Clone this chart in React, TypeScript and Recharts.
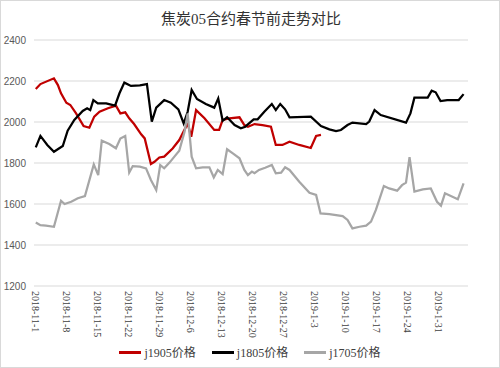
import { LineChart, Line, XAxis, YAxis, CartesianGrid, Legend } from "recharts";

// day offset from 2018-11-1, price
const tickDates = [
  "2018-11-1", "2018-11-8", "2018-11-15", "2018-11-22", "2018-11-29",
  "2018-12-6", "2018-12-13", "2018-12-20", "2018-12-27", "2019-1-3",
  "2019-1-10", "2019-1-17", "2019-1-24", "2019-1-31",
];
const tickDays = tickDates.map((_, i) => i * 7);
const priceTicks = [1200, 1400, 1600, 1800, 2000, 2200, 2400];

const j1905: [number, number][] = [
  [0, 2161], [1.05, 2185], [4.1, 2213], [5, 2180], [5.7, 2140], [6.9, 2094],
  [7.8, 2083], [9.1, 2042], [10.8, 1980], [12.1, 1972], [13.2, 2026], [14.4, 2050],
  [16.3, 2067], [18.1, 2080], [19.1, 2042], [20.2, 2047], [21.1, 2018], [22.2, 1990],
  [23.8, 1940], [24.6, 1920], [26, 1795], [26.8, 1806], [27.9, 1827], [29, 1831],
  [30.9, 1871], [32.4, 1912], [34.3, 1993], [35.1, 1928], [36.2, 2058], [38.1, 2018],
  [40.3, 1961], [41.4, 1961], [42.2, 2010], [43.7, 2018], [46, 2023], [47.1, 1985],
  [47.9, 1977], [49.4, 1990], [51.2, 1985], [53.1, 1977], [54.2, 1888], [55.7, 1888],
  [57.3, 1904], [59.5, 1888], [62.1, 1873], [63.3, 1932], [64.4, 1937],
];

const j1805: [number, number][] = [
  [0, 1876], [1.05, 1932], [2.6, 1888], [4.1, 1855], [6.1, 1883], [7.2, 1958],
  [8.7, 2010], [10.6, 2054], [11.6, 2067], [12.3, 2058], [13, 2107], [14, 2091],
  [15.9, 2091], [17.9, 2080], [18.9, 2140], [20, 2192], [21.5, 2176], [23.5, 2179],
  [25.1, 2185], [26.2, 2002], [27.2, 2070], [29, 2107], [30.5, 2094], [32.2, 2062],
  [33.4, 1993], [34.3, 2050], [35.2, 2156], [36.4, 2112], [38.4, 2088], [40.3, 2070],
  [41.2, 2115], [42.2, 2006], [43.2, 2023], [44.9, 1985], [46.3, 1969], [47.3, 1977],
  [49.2, 2013], [50.1, 2013], [51.6, 2050], [53.3, 2088], [54.2, 2058], [55.2, 2088],
  [56.3, 2062], [57.3, 2023], [62.1, 2026], [64.4, 1980], [66.3, 1964], [67.8, 1956],
  [68.9, 1961], [70.4, 1985], [71.5, 1997], [74.6, 1990], [75.3, 2002], [76.5, 2058],
  [77.9, 2034], [83.6, 1997], [84.6, 2042], [85.5, 2119], [88.5, 2119], [89.4, 2153],
  [90.3, 2145], [91.4, 2102], [92.9, 2107], [95.5, 2107], [96.6, 2136],
];

const j1705: [number, number][] = [
  [0, 1510], [1.05, 1497], [2.3, 1494], [4.1, 1489], [5.7, 1616], [6.5, 1600],
  [8, 1611], [9.5, 1628], [11.1, 1639], [13.1, 1793], [14.1, 1741], [14.9, 1909],
  [16.6, 1893], [18.1, 1872], [19.1, 1919], [20.2, 1932], [21.1, 1753], [21.9, 1785],
  [23.5, 1782], [24.9, 1774], [26, 1717], [27.2, 1668], [28.1, 1790], [29, 1774],
  [30.2, 1802], [31.3, 1831], [32.4, 1860], [33.6, 1953], [34.3, 2042], [35.2, 1831],
  [36.2, 1774], [37.7, 1779], [39.2, 1779], [40.2, 1730], [41.1, 1766], [42.2, 1746],
  [43.2, 1867], [44.5, 1847], [46, 1823], [47.1, 1766], [47.9, 1741], [48.8, 1758],
  [49.4, 1750], [50.4, 1766], [51.8, 1777], [53.3, 1790], [54.2, 1750], [55.4, 1753],
  [56.3, 1779], [57.3, 1766], [59.5, 1709], [61.8, 1655], [63.3, 1644], [64.3, 1554],
  [66.3, 1551], [69.3, 1541], [70.4, 1522], [71.5, 1481], [73.1, 1489], [74.6, 1494],
  [75.7, 1514], [76.8, 1571], [78.6, 1688], [79.8, 1676], [81.6, 1665], [82.7, 1692],
  [83.6, 1704], [84.4, 1828], [85.5, 1660], [87.4, 1671], [89.2, 1676], [90.6, 1611],
  [91.5, 1592], [92.4, 1652], [95.3, 1623], [96.6, 1701],
];

const series = [
  { name: "j1905价格", points: j1905, color: "#c00000" },
  { name: "j1805价格", points: j1805, color: "#000000" },
  { name: "j1705价格", points: j1705, color: "#a6a6a6" },
];

const serifFont = '"Liberation Serif", "Noto Sans CJK SC", serif';

function DateTick(props: any) {
  const { x, y, payload } = props;
  const label = tickDates[Math.round(payload.value / 7)];
  return (
    <text
      x={x}
      y={y}
      transform={`rotate(90, ${x}, ${y})`}
      textAnchor="start"
      dominantBaseline="central"
      fontSize={10}
      fontFamily={serifFont}
      fill="#404040"
    >
      {label}
    </text>
  );
}

function LegendRow() {
  return (
    <div style={{ display: "flex", justifyContent: "center", height: 20, alignItems: "center", fontFamily: serifFont, fontSize: 12, color: "#404040" }}>
      {series.map(s => (
        <div key={s.name} style={{ display: "flex", alignItems: "center", margin: "0 8px" }}>
          <span style={{ display: "inline-block", width: 22, height: 3, background: s.color, marginRight: 3 }} />
          <span>{s.name}</span>
        </div>
      ))}
    </div>
  );
}

export default function App() {
  return (
    <div style={{ position: "absolute", left: 0, top: 0, width: 500, height: 368, border: "1px solid #d9d9d9", boxSizing: "border-box", background: "#fff" }}>
      <div style={{ position: "absolute", left: 0, top: 6, width: 500, textAlign: "center", fontFamily: serifFont, fontSize: 15, color: "#333" }}>
        焦炭05合约春节前走势对比
      </div>
      <div style={{ position: "absolute", left: -1, top: -1 }}>
        <LineChart width={500} height={368} margin={{ top: 40, right: 32, bottom: 6, left: 0 }}>
          <CartesianGrid vertical={false} stroke="#d9d9d9" />
          <XAxis
            dataKey="day"
            type="number"
            domain={[-0.4, 97.6]}
            ticks={tickDays}
            tick={<DateTick />}
            tickLine={false}
            axisLine={false}
            tickSize={0}
            tickMargin={5}
            height={56}
            interval={0}
          />
          <YAxis
            type="number"
            domain={[1200, 2400]}
            ticks={priceTicks}
            tickLine={false}
            axisLine={false}
            width={34}
            tick={{ fontSize: 10, fill: "#595959", fontFamily: '"Liberation Sans", sans-serif' }}
          />
          <Legend
            verticalAlign="bottom"
            height={20}
            wrapperStyle={{ left: 0, width: 500 }}
            content={() => <LegendRow />}
          />
          {series.map(s => (
            <Line
              key={s.name}
              name={s.name}
              data={s.points.map(([day, price]) => ({ day, price }))}
              dataKey="price"
              stroke={s.color}
              strokeWidth={2.25}
              dot={false}
              isAnimationActive={false}
            />
          ))}
        </LineChart>
      </div>
    </div>
  );
}
